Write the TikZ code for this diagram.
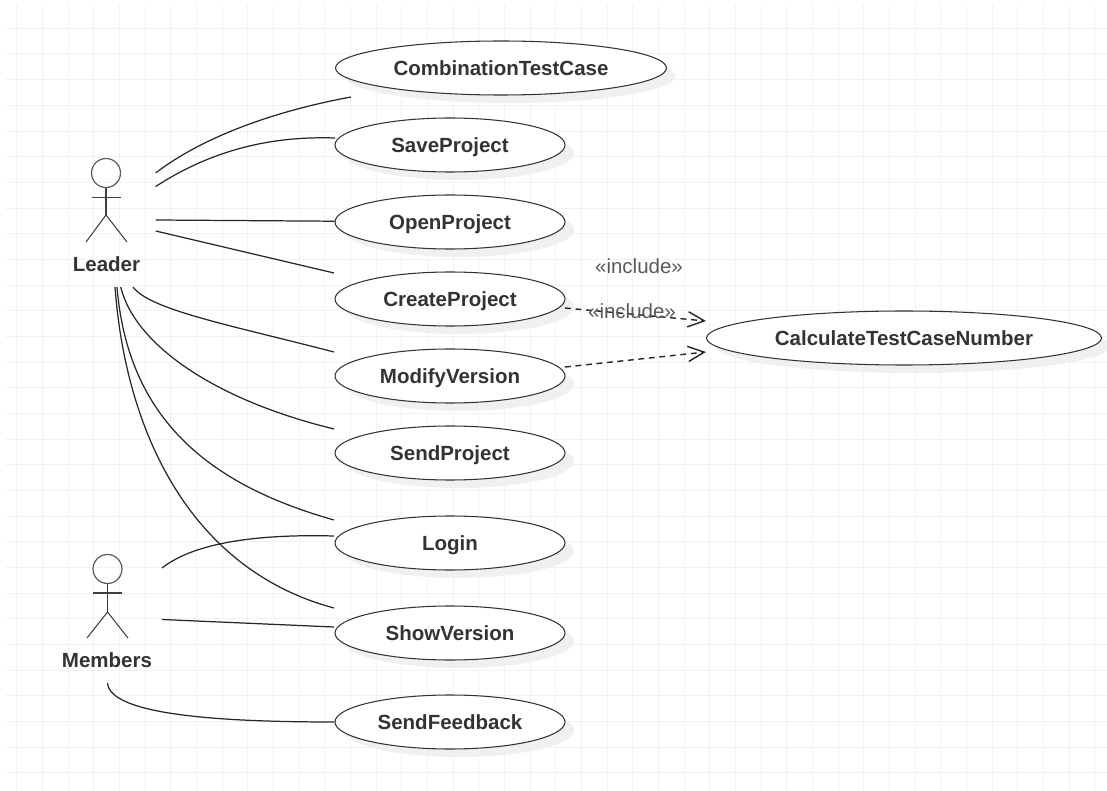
\documentclass[tikz,border=0pt]{standalone}
\usepackage{fontspec}
\setmainfont{Liberation Sans}
\usetikzlibrary{shapes, arrows.meta, shadows}

\begin{document}
\begin{tikzpicture}[x=0.03cm, y=-0.03cm,
        usecase/.style = {draw=black!80, line width=0.9pt, ellipse, fill=white, inner sep=0pt, minimum width=6.9cm, minimum height=1.62cm, font=\bfseries\fontsize{17.5}{20}\selectfont, text=black!80, text height=14pt, text depth=1.4pt, general shadow={shadow xshift=0.27cm, shadow yshift=-0.24cm, fill=black!6, draw=none}},
        actorhead/.style = {draw=black!65, line width=1pt, circle, inner sep=0pt, minimum size=0.87cm},
        actorline/.style = {draw=black!75, line width=0.9pt},
        actorname/.style = {font=\bfseries\fontsize{17.5}{20}\selectfont, text=black!80},
        stereo/.style = {font=\fontsize{17.5}{20}\selectfont, text=black!65},
        assoc/.style = {draw=black!85, line width=1.05pt},
        incl/.style = {draw=black!85, line width=1.2pt, dash pattern=on 5pt off 4pt, -{Straight Barb[length=14pt, width=13pt]}}]
                \useasboundingbox (0,0) rectangle (1107,791);
                \foreach \gx in {0,...,42}
                        \draw [black!5, line width=0.8pt] ({16.7+25.67*\gx},5) -- ({16.7+25.67*\gx},791);
                \foreach \gy in {0,...,29}
                        \draw [black!5, line width=0.8pt] (5,{28.3+25.67*\gy}) -- (1107,{28.3+25.67*\gy});

                \node[usecase, minimum width=9.93cm] at (501,68) (CombinationTestCase) {CombinationTestCase};
                \node[usecase] at (450,145) (SaveProject) {SaveProject};
                \node[usecase] at (450,222) (OpenProject) {OpenProject};
                \node[usecase] at (450,299) (CreateProject) {CreateProject};
                \node[usecase] at (450,376) (ModifyVersion) {ModifyVersion};
                \node[usecase] at (450,453) (SendProject) {SendProject};
                \node[usecase] at (450,543) (Login) {Login};
                \node[usecase] at (450,633) (ShowVersion) {ShowVersion};
                \node[usecase] at (450,722) (SendFeedback) {SendFeedback};
                \node[usecase, minimum width=11.85cm] at (904,338) (CalculateTestCaseNumber) {CalculateTestCaseNumber};

                \node[actorhead] at (106,173) (LeaderHead) {};
                \coordinate (LeaderHip) at (106,215);
                \draw [actorline] (LeaderHead) -- (LeaderHip);
                \draw [actorline] (92,197.5) -- (121,197.5);
                \draw [actorline] (86,242) -- (LeaderHip) -- (127,242);
                \node[actorname] at (106.5,264) (Leader) {Leader};

                \node[actorhead] at (107.5,569) (MembersHead) {};
                \coordinate (MembersHip) at (107.5,612);
                \draw [actorline] (MembersHead) -- (MembersHip);
                \draw [actorline] (93,593) -- (122,593);
                \draw [actorline] (87,638) -- (MembersHip) -- (128,638);
                \node[actorname] at (107,660) (Members) {Members};

                \coordinate (LeaderA) at (155.7,173);
                \coordinate (LeaderB) at (155.7,186.5);
                \coordinate (LeaderC) at (155.7,220);
                \coordinate (LeaderD) at (155.7,231);
                \coordinate (LeaderE) at (133,287);
                \coordinate (LeaderF) at (120.7,287);
                \coordinate (LeaderG) at (117,287);
                \coordinate (LeaderH) at (115,287);
                \coordinate (MembersA) at (162,568);
                \coordinate (MembersB) at (162,619.5);
                \coordinate (MembersC) at (107.5,683);

                \draw [assoc] (LeaderA) .. controls (205,135) and (280,110) .. ([shift={(-150,29)}]CombinationTestCase.center);
                \draw [assoc] (LeaderB) .. controls (215,148) and (275,136) .. ([shift={(-115,-7)}]SaveProject.center);
                \draw [assoc] (LeaderC) -- (OpenProject);
                \draw [assoc] (LeaderD) -- ([shift={(-116,-26)}]CreateProject.center);
                \draw [assoc] (LeaderE) .. controls (150,310) and (230,325) .. ([shift={(-116,-24)}]ModifyVersion.center);
                \draw [assoc] (LeaderF) .. controls (135,345) and (215,400) .. ([shift={(-116,-24)}]SendProject.center);
                \draw [assoc] (LeaderG) .. controls (128,420) and (210,485) .. ([shift={(-116,-23)}]Login.center);
                \draw [assoc] (LeaderH) .. controls (126,435) and (192,570) .. ([shift={(-116,-25)}]ShowVersion.center);
                \draw [assoc] (MembersA) .. controls (195,542) and (260,534) .. ([shift={(-116,-7)}]Login.center);
                \draw [assoc] (MembersB) -- ([shift={(-116,-6)}]ShowVersion.center);
                \draw [assoc] (MembersC) .. controls (110,715) and (220,722) .. (SendFeedback);

                \draw [incl] (CreateProject) ++(115,9) -- (CalculateTestCaseNumber.west |- 0,321);
                \draw [incl] (ModifyVersion) ++(115,-9) -- (CalculateTestCaseNumber.west |- 0,352);
                \node[stereo] at (639,266) (IncludeA) {«include»};
                \node[stereo] at (632,311) (IncludeB) {«include»};
\end{tikzpicture}
\end{document}
